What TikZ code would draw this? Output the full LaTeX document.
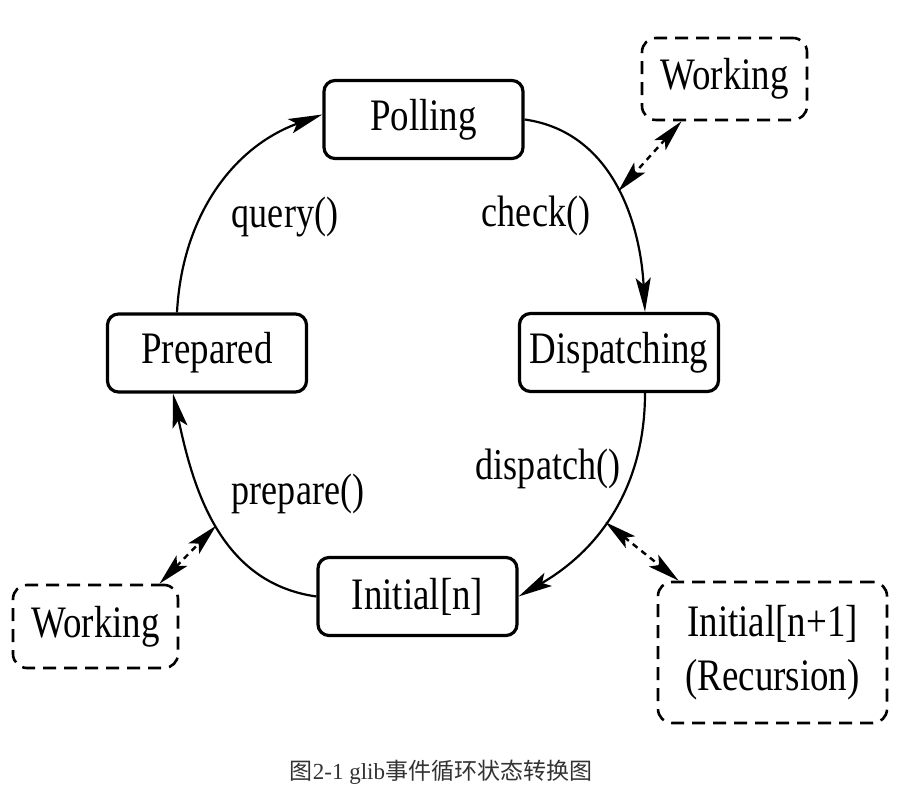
\documentclass[tikz,border=0pt]{standalone}
\usepackage{fontspec}
\setmainfont{Liberation Serif}[FakeStretch=0.82]
\newfontfamily\cjkfont{Noto Sans CJK SC}
\newfontfamily\capfont{Liberation Serif}
\usetikzlibrary{arrows.meta}
\definecolor{capgray}{HTML}{333333}
\begin{document}
\begin{tikzpicture}[x=1pt,y=1pt,
  state/.style={draw,line width=3.2pt,rounded corners=11pt,minimum width=199pt,minimum height=78pt,inner sep=0pt,font=\fontsize{45}{54}\selectfont},
  work/.style={draw,line width=2.6pt,dash pattern=on 13pt off 8pt,rounded corners=14pt,inner sep=0pt,font=\fontsize{45}{54}\selectfont},
  lbl/.style={anchor=base,inner sep=0pt,font=\fontsize{44}{54}\selectfont},
  flow/.style={line width=2.2pt,-{Stealth[length=34pt,width=15pt,inset=7pt]}},
  link/.style={line width=2.4pt,dash pattern=on 6pt off 5pt,{Stealth[length=32pt,width=15pt,inset=7pt]}-{Stealth[length=32pt,width=15pt,inset=7pt]}}]
\useasboundingbox (0,0) rectangle (897,797);
\fill[white] (0,0) rectangle (897,797);
% states
\node[state] (P) at (423.5,677.5) {Polling};
\node[state] (D) at (619,444.5) {Dispatching};
\node[state] (R) at (207,444) {Prepared};
\node[state] (I) at (417.5,200.5) {Initial[n]};
\node[work,minimum width=165pt,minimum height=82pt] (W1) at (724.5,718) {Working};
\node[work,minimum width=165pt,minimum height=83pt] (W2) at (95.5,170.5) {Working};
\node[work,minimum width=229pt,minimum height=141pt,align=center] (N) at (772.5,144.5) {Initial[n+1]\\(Recursion)};
% transitions
\draw[flow] (P.east) to[out=-8,in=93] coordinate[pos=0.52] (c1) ([xshift=26pt]D.north);
\draw[flow] ([xshift=26pt]D.south) to[out=-90,in=30] coordinate[pos=0.55] (c2) (I.east);
\draw[flow] (I.west) to[out=172,in=-78] coordinate[pos=0.5] (c3) ([xshift=-34pt]R.south);
\draw[flow] ([xshift=-30pt]R.north) to[out=87,in=200] ([yshift=5pt]P.west);
% links
\draw[link] ([xshift=-43pt]W1.south) -- (c1);
\draw[link] ([xshift=64pt]W2.north) -- (c3);
\draw[link] (c2) -- ([xshift=22pt]N.north west);
% labels
\node[lbl] (lq) at (285,569) {query()};
\node[lbl] (lc) at (536,570) {check()};
\node[lbl] (ld) at (548,317) {dispatch()};
\node[lbl] (lp) at (298,292) {prepare()};
\node[anchor=base,inner sep=0pt,text=capgray,font=\fontsize{23}{27}\selectfont] (cap) at (441,17) {{\cjkfont 图}{\capfont 2-1 glib}{\cjkfont 事件循环状态转换图}};
\end{tikzpicture}
\end{document}
